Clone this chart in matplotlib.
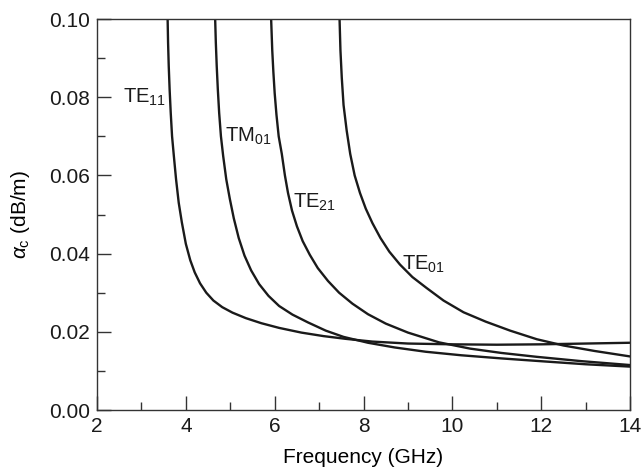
import matplotlib
matplotlib.use("Agg")
import matplotlib.pyplot as plt
from matplotlib.ticker import MultipleLocator, FormatStrFormatter

# ---------------------------
# Data (GHz, dB/m)
# ---------------------------
te11_f = [3.59, 3.60, 3.615, 3.635, 3.66, 3.69, 3.73, 3.78, 3.84, 3.91, 4.00, 4.10,
          4.20, 4.32, 4.46, 4.62, 4.82, 5.05, 5.35, 5.70, 6.10, 6.60, 7.10, 7.60,
          8.20, 9.0, 10.0, 11.0, 12.0, 13.0, 14.0]
te11_a = [0.100, 0.094, 0.088, 0.082, 0.076, 0.070, 0.065, 0.059, 0.053, 0.048, 0.0425,
          0.0383, 0.0352, 0.0324, 0.0300, 0.0280, 0.0263, 0.0249, 0.0235, 0.0222, 0.0210,
          0.0198, 0.0189, 0.0182, 0.0175, 0.0170, 0.0168, 0.0167, 0.0168, 0.0170, 0.0172]

tm01_f = [4.66, 4.675, 4.695, 4.72, 4.75, 4.79, 4.84, 4.91, 4.99, 5.08, 5.19, 5.32,
          5.47, 5.65, 5.86, 6.10, 6.40, 6.75, 7.15, 7.55, 8.10, 8.70, 9.40, 10.2,
          11.1, 12.1, 13.0, 14.0]
tm01_a = [0.100, 0.094, 0.088, 0.082, 0.076, 0.070, 0.065, 0.059, 0.054, 0.049, 0.044,
          0.0395, 0.0357, 0.0322, 0.0292, 0.0266, 0.0244, 0.0224, 0.0203, 0.0187, 0.0172,
          0.0160, 0.0149, 0.0140, 0.0132, 0.0124, 0.0117, 0.0111]

te21_f = [5.92, 5.945, 5.97, 6.00, 6.04, 6.09, 6.16, 6.23, 6.30, 6.39, 6.50, 6.63,
          6.79, 6.97, 7.20, 7.45, 7.75, 8.10, 8.50, 9.00, 9.70, 10.4, 11.1, 11.9,
          12.9, 14.0]
te21_a = [0.100, 0.092, 0.0865, 0.081, 0.0755, 0.070, 0.0655, 0.060, 0.0555, 0.051,
          0.047, 0.0432, 0.0397, 0.0363, 0.0330, 0.0300, 0.0272, 0.0245, 0.0221, 0.0198,
          0.0173, 0.0157, 0.0146, 0.0136, 0.0125, 0.0115]

te01_f = [7.46, 7.48, 7.51, 7.55, 7.62, 7.70, 7.80, 7.92, 8.05, 8.20, 8.38, 8.58,
          8.82, 9.10, 9.42, 9.80, 10.25, 10.75, 11.30, 11.90, 12.50, 13.2, 14.0]
te01_a = [0.100, 0.092, 0.085, 0.078, 0.0715, 0.0655, 0.060, 0.0555, 0.0515, 0.0478,
          0.0440, 0.0405, 0.0372, 0.0340, 0.0312, 0.0280, 0.0250, 0.0226, 0.0203, 0.0181,
          0.0165, 0.0151, 0.0137]

labels = ["TE$_{11}$", "TM$_{01}$", "TE$_{21}$", "TE$_{01}$"]
label_pos = [(2.58, 0.080), (4.88, 0.070), (6.42, 0.053), (8.86, 0.0372)]

# ---------------------------
# Style
# ---------------------------
plt.rcParams["font.family"] = ["Liberation Sans", "DejaVu Sans"]
plt.rcParams["mathtext.fontset"] = "custom"
plt.rcParams["mathtext.rm"] = "Liberation Sans"
plt.rcParams["mathtext.it"] = "Liberation Sans:italic"
plt.rcParams["font.size"] = 15

ink = "#1a1a1a"

fig = plt.figure(figsize=(6.41, 4.68), dpi=100)
ax = fig.add_axes([0.1513, 0.1239, 0.8317, 0.8355])

for f, a in [(te11_f, te11_a), (tm01_f, tm01_a), (te21_f, te21_a), (te01_f, te01_a)]:
    ax.plot(f, a, color=ink, lw=1.7, solid_joinstyle="round")

for txt, (x, y) in zip(labels, label_pos):
    ax.text(x, y, txt, fontsize=14.5, va="center", ha="left", color=ink)

ax.set_xlim(2, 14)
ax.set_ylim(0, 0.10)
ax.xaxis.set_major_locator(MultipleLocator(2))
ax.xaxis.set_minor_locator(MultipleLocator(1))
ax.yaxis.set_major_locator(MultipleLocator(0.02))
ax.yaxis.set_minor_locator(MultipleLocator(0.01))
ax.yaxis.set_major_formatter(FormatStrFormatter("%.2f"))
ax.tick_params(which="both", direction="in", top=False, right=False,
               colors="#333333", labelcolor=ink, labelsize=15, width=1)
ax.tick_params(which="major", length=10, pad=5)
ax.tick_params(which="minor", length=6)
for s in ax.spines.values():
    s.set_color("#333333")
    s.set_linewidth(1)

ax.set_xlabel("Frequency (GHz)", fontsize=15, labelpad=9)
ax.set_ylabel(r"$\alpha_{\rm c}$ (dB/m)", fontsize=15, labelpad=12)

fig.savefig("out.png", dpi=100)
